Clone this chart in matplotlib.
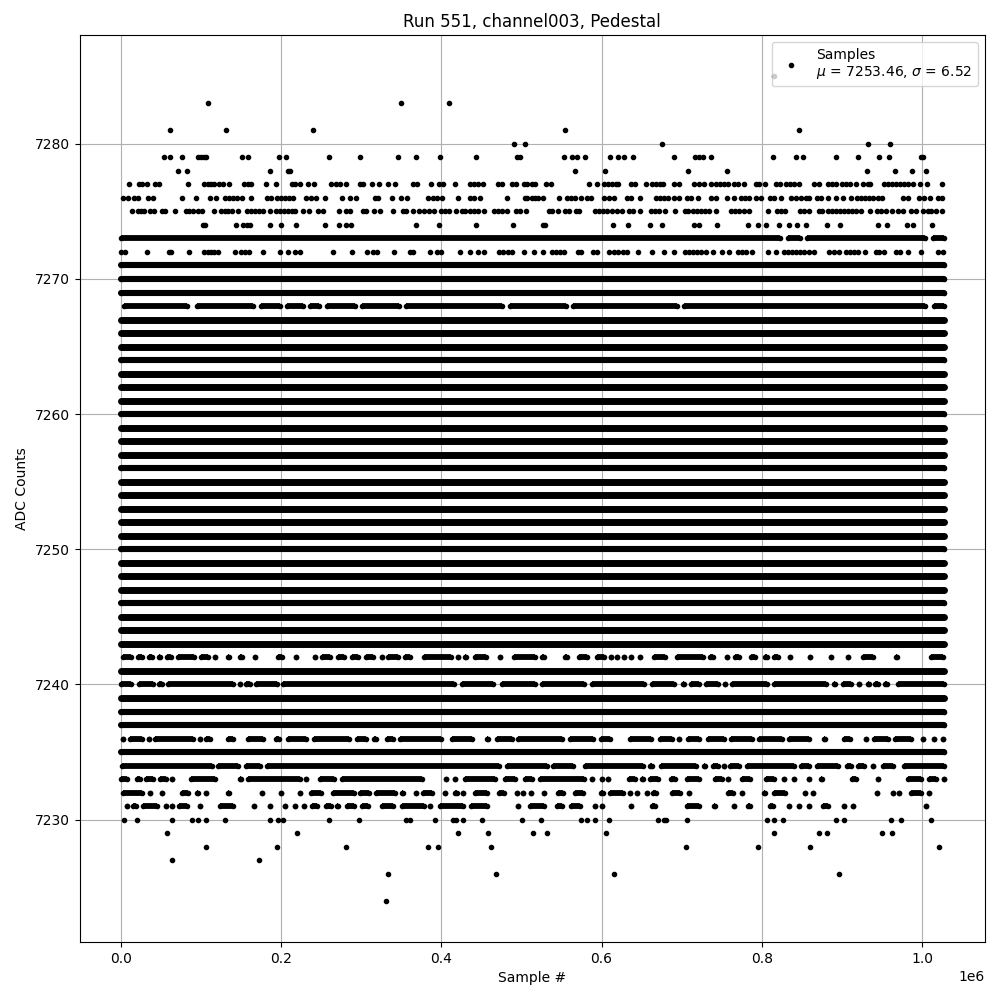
import matplotlib
matplotlib.use("Agg")
import matplotlib.pyplot as plt

# x values are in thousands of samples
pts_7285 = [815.0]
pts_7283 = [110.0, 350.0, 410.0]
pts_7281 = [61.6, 131.6, 240.4, 555.4, 846.7]
pts_7280 = [491.7, 505.4, 675.4, 932.9, 960.4]
pts_7279 = [54.2, 61.7, 77.1, 96.7, 100.8, 104.2, 107.1, 151.7, 159.2, 197.9, 206.7, 260.4, 299.2, 346.7, 369.2,
            399.2, 444.2, 495.4, 498.8, 554.2, 564.2, 570.4, 580.4, 610.4, 620.4, 627.9, 639.2, 690.4, 716.7,
            721.7, 726.7, 736.7, 814.2, 842.9, 851.7, 892.9, 920.4, 946.7, 959.2, 999.2, 1001.7]
pts_7278 = [71.7, 82.9, 186.7, 209.2, 211.7, 567.9, 604.2, 707.9, 756.7, 931.7, 966.7, 987.9, 1005.4]
pts_7277 = [10.4, 23.8, 27.1, 32.9, 42.9, 48.8, 84.2, 104.2, 109.2, 113.3, 117.5, 123.8, 128.8, 135.4, 154.2, 159.2,
            163.3, 181.7, 194.2, 214.2, 218.3, 224.2, 234.2, 241.7, 262.9, 269.2, 274.6, 282.1, 299.2, 302.9,
            314.2, 322.9, 334.2, 342.9, 365.4, 370.8, 387.9, 397.9, 402.9, 417.9, 436.7, 441.7, 446.7, 452.9,
            471.7, 476.7, 489.2, 494.2, 504.2, 507.9, 513.3, 517.1, 531.3, 537.1, 584.2, 594.2, 602.9, 607.9,
            612.9, 617.9, 620.4, 637.5, 642.5, 655.4, 662.9, 667.9, 672.9, 676.7, 690.4, 696.7, 715.4, 721.7,
            727.9, 736.7, 742.9, 747.9, 752.9, 757.9, 765.4, 770.4, 777.9, 792.9, 796.7, 804.2, 817.9, 822.9,
            830.4, 835.4, 840.4, 846.7, 865.4, 871.7, 882.9, 887.9, 893.3, 900.4, 905.4, 910.4, 917.9, 926.7,
            932.9, 935.4, 952.9, 957.9, 962.9, 967.9, 972.9, 977.9, 982.9, 989.2, 997.9, 1006.7, 1025.4]
pts_7276 = [2.9, 9.2, 17.5, 22.5, 34.2, 40.4, 77.1, 94.6, 111.7, 119.6, 130.4, 135.4, 140.4, 145.4, 152.1, 162.9,
            182.9, 187.9, 195.4, 200.4, 205.4, 210.4, 215.4, 231.7, 237.9, 244.2, 255.4, 276.7, 286.7, 294.2,
            317.9, 321.7, 339.2, 350.4, 357.9, 384.2, 390.4, 394.6, 401.7, 421.7, 436.7, 441.7, 449.2, 482.9,
            505.4, 507.9, 513.3, 517.5, 521.7, 527.9, 547.9, 557.9, 562.9, 567.9, 574.2, 582.9, 587.9, 602.9,
            609.2, 615.4, 632.1, 637.1, 647.9, 667.9, 672.9, 677.9, 682.9, 690.4, 696.7, 706.7, 711.7, 720.4,
            736.7, 742.9, 756.7, 765.4, 774.2, 779.2, 784.2, 792.9, 799.2, 810.4, 815.4, 824.2, 836.7, 842.9,
            849.2, 855.4, 859.2, 869.2, 874.2, 882.9, 892.9, 901.7, 911.7, 919.2, 924.2, 929.2, 934.2, 939.2,
            945.4, 950.4, 976.7, 982.9, 996.7, 1002.9, 1010.4, 1020.4, 1025.4]
pts_7275 = [14.2, 22.5, 25.8, 30.0, 37.1, 42.1, 51.7, 56.3, 67.9, 81.7, 85.4, 90.4, 96.7, 101.7, 117.5, 125.4, 130.4,
            134.2, 139.2, 146.7, 157.9, 162.9, 167.9, 172.9, 177.9, 186.7, 194.2, 199.2, 204.2, 209.2, 214.2,
            217.9, 227.9, 235.4, 246.7, 252.9, 272.9, 281.7, 286.3, 302.9, 306.7, 316.7, 324.2, 340.4, 352.9,
            356.7, 365.4, 372.9, 379.2, 385.4, 391.7, 400.4, 405.4, 410.4, 419.2, 426.7, 430.4, 436.7, 441.7,
            446.7, 454.2, 466.7, 471.7, 476.7, 482.9, 494.2, 499.2, 506.7, 535.4, 539.2, 546.7, 555.4, 560.4,
            569.2, 572.9, 591.7, 596.7, 601.7, 606.7, 612.9, 619.2, 625.4, 634.2, 639.2, 647.9, 661.7, 666.7,
            671.7, 679.2, 691.7, 704.2, 707.9, 714.2, 719.2, 724.2, 729.2, 734.2, 742.9, 761.7, 766.7, 771.7,
            777.9, 784.0, 808.0, 819.2, 824.2, 829.2, 847.9, 852.9, 859.2, 871.7, 875.4, 882.9, 887.9, 892.9,
            897.9, 902.9, 907.9, 912.9, 917.9, 924.2, 935.4, 944.2, 949.2, 955.4, 962.9, 970.4, 976.7, 986.7,
            992.9, 1001.7, 1007.9, 1011.7, 1017.9, 1025.4]
pts_7274 = [102.9, 105.4, 144.2, 152.9, 157.9, 161.7, 186.7, 200.4, 219.2, 255.4, 272.9, 281.7, 287.9, 369.2, 397.9,
            444.2, 490.4, 527.9, 530.4, 614.6, 633.3, 660.4, 675.4, 715.4, 721.7, 744.2, 782.9, 795.4, 805.4,
            821.7, 834.2, 844.2, 855.4, 881.7, 898.0, 945.4, 956.7, 981.7, 989.2, 1012.9]
pts_7272 = [0.4, 5.4, 32.9, 60.4, 62.9, 85.4, 104.2, 109.2, 113.3, 117.5, 121.7, 142.9, 150.4, 155.4, 160.4, 177.9,
            199.2, 209.2, 217.9, 224.2, 265.4, 289.2, 307.9, 315.4, 320.4, 341.7, 361.7, 365.4, 386.7, 395.4,
            400.4, 424.2, 436.7, 446.7, 454.2, 472.9, 477.9, 484.2, 489.2, 504.2, 516.3, 527.5, 538.8, 543.8,
            548.8, 553.8, 571.3, 575.0, 590.4, 595.4, 609.2, 615.4, 620.4, 626.7, 632.1, 645.4, 662.9, 677.9,
            690.4, 704.2, 709.2, 714.2, 719.2, 724.2, 730.4, 739.2, 750.4, 759.2, 770.4, 775.4, 780.4, 787.9,
            807.9, 817.9, 827.9, 832.9, 837.9, 842.9, 847.9, 852.9, 859.2, 865.4, 884.2, 890.4, 896.7, 905.4,
            910.4, 915.4, 920.4, 929.2, 942.9, 946.7, 953.0, 968.0, 973.0, 983.0, 999.2, 1020.4, 1026.7]
pts_7230 = [4.2, 20.4, 64.2, 89.2, 96.7, 106.7, 130.4, 186.7, 196.7, 202.9, 260.4, 297.9, 356.7, 361.7, 392.9, 415.4,
            418.7, 427.9, 451.7, 501.7, 525.4, 575.4, 582.9, 592.9, 609.2, 670.4, 677.9, 680.4, 706.7, 806.7,
            815.4, 826.7, 892.9, 902.9, 961.7, 974.2, 1011.7]
pts_7229 = [57.9, 220.4, 421.7, 459.2, 515.4, 532.9, 605.4, 815.4, 871.7, 881.7, 950.4, 962.9]
pts_7228 = [106.7, 195.4, 281.7, 384.2, 396.7, 462.9, 705.4, 795.4, 860.4, 1021.7]
pts_7227 = [64.2, 172.9]
pts_7226 = [334.2, 469.2, 615.4, 896.7]
pts_7224 = [331.7]

# occupied stretches (start, end) of the rows too crowded to read sample by sample
spans_7273 = [(1, 823.7), (833.4, 847.5), (856.3, 1003.7), (1013.8, 1027.5)]
spans_7268 = [(4.2, 83.7), (95.9, 166.2), (175.4, 199.6), (208.4, 227.9), (237.1, 247.5), (257.9, 293.3),
              (302.1, 347.5), (357.1, 476.6), (486.3, 555.8), (564.6, 694.1), (703.4, 1004.6), (1014.6, 1027.5)]
spans_7242 = [(3.8, 13.7), (22.1, 27.1), (36.3, 39.2), (47.9, 49.6), (58.3, 62.9), (72.1, 92.1), (101.3, 110),
              (118, 118), (133.8, 136.2), (149.6, 151.7), (167.5, 168.7), (197.1, 202), (219, 219), (242.5, 243.3),
              (252.1, 261.2), (272.1, 278.7), (289.6, 296.2), (306.3, 315.4), (326, 326), (333.8, 346.2),
              (355.4, 362), (378.8, 412.9), (421, 421), (429.6, 431.2), (442.9, 455.8), (474, 474), (491.3, 517),
              (526.3, 528.7), (555, 557), (572.1, 582.9), (594.6, 602.9), (612, 612), (620, 620), (628.5, 628.5),
              (637, 637), (648, 648), (666.3, 679.6), (695, 726.6), (736.3, 739.2), (757, 757), (767.1, 772.5),
              (787.5, 792.1), (805, 807), (815.4, 821.2), (836, 836), (861, 861), (887, 887), (908, 908),
              (926.3, 938.7), (967.5, 968.7), (1011.3, 1026.6)]
spans_7240 = [(1.3, 13.7), (23.8, 40.4), (48.8, 52.1), (59.6, 141.2), (150, 150), (157.1, 162.1), (169.6, 195.4),
              (203, 416.2), (426.3, 465.4), (475.9, 517), (526.3, 578.7), (588.8, 653.7), (663.8, 691.2),
              (702.1, 702.9), (711.7, 722.5), (730.4, 746.2), (754.2, 754.6), (763.3, 807), (815.4, 880.8),
              (890.9, 891.2), (901.3, 912.1), (922, 922), (933.4, 933.7), (941.7, 945.4), (954.6, 957.1),
              (970.8, 1027.5)]
spans_7236 = [(4, 4), (12.1, 26.6), (36, 36), (43.8, 91.2), (99.6, 99.6), (107.1, 112.1), (134.6, 140.4),
              (159.6, 177.9), (193.8, 198.3), (209.2, 232.1), (241.3, 285), (295.9, 307.1), (316.3, 319.6),
              (333.4, 340.4), (349.6, 399.6), (413.4, 439.1), (457.1, 458.7), (469.6, 488.3), (496.3, 551.7),
              (561.3, 590.4), (599.6, 611.2), (635.4, 662.1), (673.8, 688.7), (696.5, 696.5), (708.8, 722.5),
              (733, 753.7), (762.1, 787.9), (797.1, 825.4), (834.6, 858.7), (878.4, 879.6), (902.9, 910),
              (930.4, 930.4), (940.8, 957.9), (967.1, 987.1), (1000.9, 1002.1), (1014.6, 1015.4), (1026, 1026)]
spans_7234 = [(2.1, 114.2), (122.5, 147.1), (156.3, 174.6), (182.9, 472.5), (482.1, 532.1), (540.4, 565.4),
              (579.6, 651.7), (660.4, 662.9), (674.6, 718.3), (727.9, 729.6), (739.6, 745.4), (753.5, 753.5),
              (760.4, 772.5), (782.1, 840.4), (849.6, 858.7), (868.8, 895.4), (906.3, 911.2), (920.9, 927.9),
              (939.5, 939.5), (951.3, 964.1), (978.4, 1027.5)]
spans_7233 = [(0.9, 7.9), (20.8, 24.6), (32.1, 40.4), (50, 57.1), (64.4, 64.4), (88.8, 118.7), (148.8, 150.4),
              (158.8, 224.6), (232, 232), (248.8, 266.2), (277.1, 376.6), (406, 406), (417, 417), (429.6, 467.9),
              (480.4, 492.9), (505.4, 514), (523.8, 578.7), (589, 589), (601, 601), (608, 608), (634.6, 642.1),
              (650.9, 651.7), (660.4, 671.2), (687.5, 692.1), (707.1, 721.7), (742.5, 750.4), (758, 758),
              (775.8, 786.2), (805.4, 815.4), (827.5, 827.5), (840.5, 840.5), (859.4, 859.4), (873.8, 875.4),
              (913.4, 918.3), (945, 945), (983.3, 999.6), (1008.8, 1018.3), (1027.5, 1027.5)]
spans_7232 = [(3, 26.6), (37, 37), (51.7, 51.7), (77.1, 84.1), (95.9, 97.5), (107, 107), (134.6, 135.8), (177, 177),
              (200.4, 200.4), (224.4, 224.4), (237.9, 250.4), (265.9, 291.2), (298.8, 310), (319.6, 343.3),
              (351.3, 352.5), (369.2, 369.2), (378, 389.2), (404.8, 404.8), (417.1, 419.6), (428, 428),
              (442.9, 457.9), (472.1, 478.7), (494.4, 494.4), (502, 502), (512.5, 512.5), (529, 529), (545.9, 552.5),
              (567.9, 577.9), (599.6, 602.1), (610.9, 626.7), (635.4, 635.4), (644.6, 644.6), (656.8, 656.8),
              (664.6, 668.3), (688.8, 698.3), (709.4, 709.4), (758.4, 764.2), (775.2, 775.2), (803.4, 804.2),
              (815.4, 829.6), (854.4, 854.4), (864.4, 864.4), (944.2, 944.2), (964.6, 964.6), (971.7, 971.7),
              (986.7, 998.7), (1008.4, 1009.2)]
spans_7231 = [(8.2, 8.2), (15.4, 19.6), (28.8, 45.4), (57.1, 57.1), (64.4, 64.4), (72.9, 82.9), (99.2, 99.2),
              (124.6, 140.4), (166.7, 166.7), (186.7, 186.7), (205.9, 205.9), (217.9, 217.9), (229.2, 229.2),
              (239.6, 245.4), (257.1, 262.9), (270.9, 271.2), (283.4, 291.2), (302.1, 309.1), (327.1, 340),
              (350.9, 378.7), (386.9, 386.9), (398.8, 427.9), (437.1, 457.9), (495.9, 496.2), (511, 528.7),
              (544.6, 551.7), (562.9, 573.7), (592.1, 592.1), (600.4, 600.4), (636.7, 636.7), (663.4, 666.7),
              (707.1, 721.7), (740.8, 741.6), (765.4, 765.4), (783.3, 785.4), (810.9, 814.2), (834.4, 834.4),
              (846.9, 846.9), (859.4, 859.4), (877.1, 882.9), (902.9, 902.9), (914.4, 914.4), (1005.4, 1005.4)]

# rows occupied from the first sample to the last
first_sample = 0.5
last_sample = 1027.5
solid_levels = [7267, 7266, 7265, 7263, 7262, 7261, 7259, 7258, 7257, 7255, 7254, 7253, 7252, 7251,
                7249, 7248, 7247, 7245, 7244, 7243, 7241, 7239]
speckled_levels = [7271, 7270, 7269, 7264, 7260, 7256, 7250, 7246, 7238, 7237, 7235]

point_rows = {7285: pts_7285, 7283: pts_7283, 7281: pts_7281, 7280: pts_7280, 7279: pts_7279, 7278: pts_7278,
              7277: pts_7277, 7276: pts_7276, 7275: pts_7275, 7274: pts_7274, 7272: pts_7272, 7230: pts_7230,
              7229: pts_7229, 7228: pts_7228, 7227: pts_7227, 7226: pts_7226, 7224: pts_7224}
span_rows = {7273: spans_7273, 7268: spans_7268, 7242: spans_7242, 7240: spans_7240, 7236: spans_7236,
             7234: spans_7234, 7233: spans_7233, 7232: spans_7232, 7231: spans_7231}

title = "Run 551, channel003, Pedestal"
xlabel = "Sample #"
ylabel = "ADC Counts"
legend_label = "Samples\n$\\mu$ = 7253.46, $\\sigma$ = 6.52"

fig, ax = plt.subplots(figsize=(10, 10), dpi=100)
SCALE = 1000.0
READ_OFFSET = 0.5  # the readings above were taken slightly high
xs, ys = [], []
for level, values in point_rows.items():
    xs.extend(max(v - READ_OFFSET, 0.0) * SCALE for v in values)
    ys.extend([level] * len(values))


def add_band(level, start, end, width, cap):
    x0 = (start - READ_OFFSET) * SCALE
    x1 = (end - READ_OFFSET) * SCALE
    ax.hlines(level, x0, x1, colors="k", linewidth=width, capstyle=cap, zorder=2)
    xs.extend([x0, x1])
    ys.extend([level, level])


for level, spans in span_rows.items():
    for start, end in spans:
        add_band(level, start, end, 4.2, "butt")
for level in solid_levels:
    add_band(level, first_sample, last_sample, 5.0, "round")
for level in speckled_levels:
    add_band(level, first_sample, last_sample, 4.4, "round")

ax.plot(xs, ys, "k.", label=legend_label, zorder=2)
ax.set_title(title)
ax.set_xlabel(xlabel)
ax.set_ylabel(ylabel)
ax.grid(True)
ax.legend(loc="upper right")
fig.subplots_adjust(left=0.0795, right=0.985, top=0.965, bottom=0.058)
fig.savefig("out.png", dpi=100)
